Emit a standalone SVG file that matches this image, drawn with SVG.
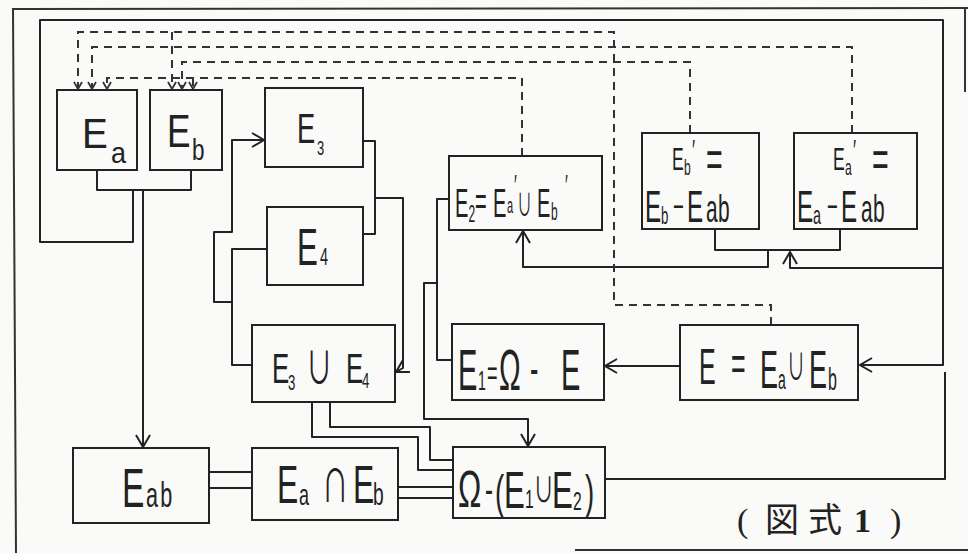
<svg xmlns="http://www.w3.org/2000/svg" width="968" height="553" viewBox="0 0 968 553">
<style>
.bx{fill:none;stroke:#222;stroke-width:2}
.ln{fill:none;stroke:#222;stroke-width:2;stroke-linejoin:round}
.ds{fill:none;stroke:#333;stroke-width:2;stroke-dasharray:8 6}
.fr{fill:none;stroke:#333;stroke-width:2}
.t{font-family:"Liberation Sans","DejaVu Sans",sans-serif;fill:#222}
.m{font-family:"Noto Sans CJK JP","DejaVu Sans",sans-serif}
.cap{font-family:"Liberation Serif","Noto Sans CJK JP",serif;fill:#222}
</style>
<defs>
<marker id="ar" markerUnits="userSpaceOnUse" markerWidth="16" markerHeight="18" viewBox="0 0 16 18" refX="13" refY="8" orient="auto">
<path d="M1,1 L13,8 L1,15" fill="none" stroke="#222" stroke-width="2"/>
</marker>
<marker id="ad" markerUnits="userSpaceOnUse" markerWidth="10" markerHeight="10" viewBox="0 0 10 10" refX="8" refY="5" orient="auto">
<path d="M1,1 L8,5 L1,9" fill="none" stroke="#333" stroke-width="1.8"/>
</marker>
</defs>
<rect width="968" height="553" fill="#fafaf8"/>
<g id="frame">
<path class="fr" d="M16,553 L13,9 L968,8"/>
<path class="fr" d="M965,8 L965,92"/>
<path class="fr" d="M575,550 L968,550"/>
</g>
<g id="connectors">
<path class="ln" d="M133,190 L133,242 L40,242 L40,20 L943,20 L943,365 L860,365" marker-end="url(#ar)"/>
<path class="ln" d="M943,268 L790,268 L790,252" marker-end="url(#ar)"/>
<path class="ln" d="M97,170 L97,190 L191,190 L191,170"/>
<path class="ln" d="M143,190 L143,447" marker-end="url(#ar)"/>
<path class="ln" d="M252,365 L232,365 L232,249 L267,249"/>
<path class="ln" d="M232,302 L214,302 L214,232 L232,232 L232,140 L264,140" marker-end="url(#ar)"/>
<path class="ln" d="M363,141 L375,141 L375,234 L363,234"/>
<path class="ln" d="M375,198 L403,198 L403,368 L396,372" marker-end="url(#ar)"/>
<path class="ln" d="M312,402 L312,437 L418,437 L418,470 L453,470"/>
<path class="ln" d="M330,402 L330,427 L430,427 L430,460 L453,460"/>
<path class="ln" d="M209,472 L252,472 M209,488 L252,488"/>
<path class="ln" d="M398,487 L453,487 M398,498 L453,498"/>
<path class="ln" d="M449,199 L437,199 L437,360 L452,360"/>
<path class="ln" d="M437,283 L424,283 L424,419 L528,419 L528,446" marker-end="url(#ar)"/>
<path class="ln" d="M715,229 L715,250 L840,250 L840,229"/>
<path class="ln" d="M768,250 L768,267 L523,267 L523,231" marker-end="url(#ar)"/>
<path class="ln" d="M680,366 L605,366" marker-end="url(#ar)"/>
<path class="ln" d="M605,479 L945,479 L945,372"/>
<path class="ds" d="M522,156 L522,78 L107,78 L107,89" marker-end="url(#ad)"/>
<path class="ds" d="M193,78 L193,89" marker-end="url(#ad)"/>
<path class="ds" d="M771,325 L771,305 L614,305 L614,32 L78,32 L78,89" marker-end="url(#ad)"/>
<path class="ds" d="M172,32 L172,89" marker-end="url(#ad)"/>
<path class="ds" d="M852,133 L852,47 L92,47 L92,89" marker-end="url(#ad)"/>
<path class="ds" d="M690,133 L690,62 L182,62 L182,89" marker-end="url(#ad)"/>
</g>
<g id="Ea">
<rect class="bx" x="57" y="90" width="80" height="80"/>
<text class="t" transform="scale(0.9 1)"><tspan x="91.1" y="148" font-size="43">E</tspan><tspan x="123.3" y="163" font-size="30">a</tspan></text>
</g>
<g id="Eb">
<rect class="bx" x="150" y="90" width="72" height="80"/>
<text class="t" transform="scale(0.75 1)"><tspan x="222.7" y="147" font-size="47">E</tspan><tspan x="256" y="160" font-size="30">b</tspan></text>
</g>
<g id="E3">
<rect class="bx" x="265" y="88" width="98" height="79"/>
<text class="t" transform="scale(0.65 1)"><tspan x="456.9" y="143" font-size="42">E</tspan><tspan x="487.7" y="155" font-size="20">3</tspan></text>
</g>
<g id="E4">
<rect class="bx" x="267" y="207" width="96" height="78"/>
<text class="t" transform="scale(0.6 1)"><tspan x="495" y="265" font-size="52">E</tspan><tspan x="533.3" y="265" font-size="24">4</tspan></text>
</g>
<g id="E3uE4">
<rect class="bx" x="252" y="325" width="143" height="77"/>
<text class="t" transform="scale(0.6 1)"><tspan x="453.3" y="383" font-size="43">E</tspan><tspan x="480" y="390" font-size="22">3</tspan><tspan class="m" x="510" y="384" font-size="44">∪</tspan><tspan x="576.7" y="383" font-size="43">E</tspan><tspan x="603.3" y="388" font-size="22">4</tspan></text>
</g>
<g id="Eab">
<rect class="bx" x="73" y="448" width="136" height="75"/>
<text class="t" transform="scale(0.6 1)"><tspan x="203.3" y="507" font-size="56">E</tspan><tspan x="243.3" y="507" font-size="36">a</tspan><tspan x="267" y="507" font-size="36">b</tspan></text>
</g>
<g id="EaNEb">
<rect class="bx" x="252" y="448" width="146" height="72"/>
<text class="t" transform="scale(0.6 1)"><tspan x="461.7" y="503" font-size="53">E</tspan><tspan x="498.3" y="505" font-size="30">a</tspan><tspan class="m" x="536.7" y="502" font-size="44">∩</tspan><tspan x="588.3" y="503" font-size="53">E</tspan><tspan x="621.7" y="505" font-size="32">b</tspan></text>
</g>
<g id="Omega">
<rect class="bx" x="453" y="447" width="152" height="71"/>
<text class="t" transform="scale(0.6 1)"><tspan x="763.3" y="507" font-size="52">Ω</tspan><tspan x="808.3" y="503" font-size="40">-</tspan><tspan x="825" y="508" font-size="46">(</tspan><tspan x="840" y="508" font-size="52">E</tspan><tspan x="875" y="508" font-size="26">1</tspan><tspan class="m" x="889" y="502" font-size="34">∪</tspan><tspan x="920" y="508" font-size="52">E</tspan><tspan x="955" y="510" font-size="26">2</tspan><tspan x="975" y="508" font-size="46">)</tspan></text>
</g>
<g id="E1">
<rect class="bx" x="452" y="324" width="152" height="76"/>
<text class="t" transform="scale(0.5 1)"><tspan x="916" y="390" font-size="58">E</tspan><tspan x="956" y="390" font-size="28">1</tspan><tspan x="974" y="385" font-size="36">=</tspan><tspan x="998" y="390" font-size="58">Ω</tspan><tspan x="1060" y="385" font-size="50">-</tspan><tspan x="1122" y="390" font-size="58">E</tspan></text>
</g>
<g id="E">
<rect class="bx" x="680" y="325" width="178" height="75"/>
<text class="t" transform="scale(0.5 1)"><tspan x="1398" y="384" font-size="50">E</tspan><tspan x="1462" y="380" font-size="50">=</tspan><tspan x="1520" y="388" font-size="54">E</tspan><tspan x="1556" y="389" font-size="28">a</tspan><tspan class="m" x="1574" y="380" font-size="36">∪</tspan><tspan x="1618" y="388" font-size="54">E</tspan><tspan x="1656" y="390" font-size="32">b</tspan></text>
</g>
<g id="E2">
<rect class="bx" x="449" y="156" width="153" height="74"/>
<text class="t" transform="scale(0.5 1)"><tspan x="910" y="217" font-size="40">E</tspan><tspan x="937" y="222" font-size="24">2</tspan><tspan x="950" y="215" font-size="40">=</tspan><tspan x="986" y="217" font-size="40">E</tspan><tspan x="1014" y="213" font-size="22">a</tspan><tspan x="1028" y="195" font-size="30">′</tspan><tspan class="m" x="1034" y="215" font-size="30">∪</tspan><tspan x="1074" y="217" font-size="40">E</tspan><tspan x="1102" y="220" font-size="24">b</tspan><tspan x="1130" y="195" font-size="30">′</tspan></text>
</g>
<g id="Ebp">
<rect class="bx" x="642" y="133" width="117" height="96"/>
<text class="t" transform="scale(0.55 1)"><tspan x="1221.8" y="170" font-size="32">E</tspan><tspan x="1243.6" y="175" font-size="22">b</tspan><tspan x="1258" y="160" font-size="30">′</tspan><tspan x="1283.6" y="177" font-size="52">=</tspan></text>
<text class="t" transform="scale(0.55 1)"><tspan x="1172.7" y="222" font-size="44">E</tspan><tspan x="1201.8" y="224" font-size="24">b</tspan><tspan x="1223.6" y="218" font-size="34">−</tspan><tspan x="1249.1" y="222" font-size="44">E</tspan><tspan x="1283.6" y="222" font-size="38">a</tspan><tspan x="1305.5" y="222" font-size="38">b</tspan></text>
</g>
<g id="Eap">
<rect class="bx" x="794" y="133" width="123" height="96"/>
<text class="t" transform="scale(0.55 1)"><tspan x="1514.5" y="170" font-size="32">E</tspan><tspan x="1536.4" y="175" font-size="22">a</tspan><tspan x="1551" y="160" font-size="30">′</tspan><tspan x="1585.5" y="177" font-size="52">=</tspan></text>
<text class="t" transform="scale(0.55 1)"><tspan x="1449.1" y="222" font-size="44">E</tspan><tspan x="1478.2" y="224" font-size="26">a</tspan><tspan x="1503.6" y="218" font-size="34">−</tspan><tspan x="1529.1" y="222" font-size="44">E</tspan><tspan x="1565.5" y="222" font-size="38">a</tspan><tspan x="1587.3" y="222" font-size="38">b</tspan></text>
</g>
<g id="caption">
<text class="cap" font-size="34"><tspan x="737" y="532">(</tspan><tspan x="765" y="532">図</tspan><tspan x="808" y="532">式</tspan><tspan x="854" y="532" font-weight="bold">1</tspan><tspan x="890" y="532">)</tspan></text>
</g>
</svg>
